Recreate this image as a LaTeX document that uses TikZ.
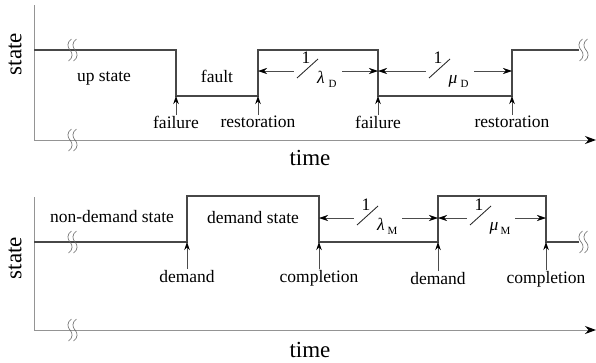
\documentclass[tikz,border=0pt]{standalone}
\usepackage{fontspec}
\setmainfont{Liberation Serif}
\usetikzlibrary{arrows.meta, calc, positioning}

\tikzset{
  sig/.style={draw=black!72, line width=1.3pt},
  ax/.style={draw=black!42, line width=1pt},
  axarrow/.style={ax, -{Stealth[length=11pt,width=8pt,color=black]}},
  evt/.style={draw=black!70, line width=0.6pt, -{Stealth[length=8pt,width=5.5pt,color=black]}},
  dimarr/.style={draw=black!70, line width=0.6pt, -{Stealth[length=9pt,width=6pt,color=black]}},
  lbl/.style={font=\fontsize{17.5}{18}\selectfont, inner sep=1pt},
  sublbl/.style={font=\fontsize{11}{11}\selectfont, inner sep=1pt},
  axlbl/.style={font=\fontsize{23}{24}\selectfont, inner sep=0pt},
  ratebox/.style={minimum width=48pt, minimum height=30pt, inner sep=0pt},
  brk/.pic={
    \draw[black!60, line width=0.6pt] (1.5,-11) .. controls (-3,-8) and (-3,-3) .. (0,0) .. controls (3,3) and (3,8) .. (-1.5,11);
    \draw[black!60, line width=0.6pt] (6.5,-11) .. controls (2,-8) and (2,-3) .. (5,0) .. controls (8,3) and (8,8) .. (3.5,11);
  }
}

% reciprocal of a rate, 1/lambda_X, set round a centre point
\newcommand\ratelbl[4]{%
  \node[ratebox] (#1) at (#2) {};
  \node[lbl, anchor=base] (#1-one) at ($(#2)+(-12,-8)$) {1};
  \draw[black!85, line width=0.85pt] ($(#2)+(-21,7)$) -- ($(#2)+(0,-12)$);
  \node[lbl, anchor=base] (#1-sym) at ($(#2)+(3,12)$) {\textit{#3}};
  \node[sublbl, anchor=base] (#1-sub) at ($(#2)+(14.5,16)$) {#4};
}

\begin{document}
\begin{tikzpicture}[x=1pt,y=-1pt]
  \useasboundingbox (0,0) rectangle (596,362);

  % ---- upper chart: fault and restoration ----
  \coordinate (yt1) at (34,5);
  \coordinate (o1) at (34,140);
  \coordinate (xe1) at (596,140);
  \draw[ax] (yt1) -- (o1);
  \draw[axarrow] (o1) -- (xe1);
  \node[axlbl] (time1) at (310,158) {time};
  \node[axlbl, rotate=90] (state1) at (15,54) {state};
  % switching instants
  \coordinate (f1) at (176,96);
  \coordinate (r1) at (258,96);
  \coordinate (f2) at (378,96);
  \coordinate (r2) at (512,96);
  \draw[sig] (34,50) -- (176,50) -- (f1) -- (r1) -- (258,50) -- (378,50)
    -- (f2) -- (r2) -- (512,50) -- (579,50);
  \pic at (70,50) {brk};
  \pic at (70,140) {brk};
  \pic at (581,50) {brk};
  % states
  \node[lbl] (up) at (104,78) {up state};
  \node[lbl] (fault) at (217,76) {fault};
  % events
  \node[lbl, anchor=north] (fail1) at (176,115) {failure};
  \node[lbl, anchor=north] (rest1) at (258,115) {restoration};
  \node[lbl, anchor=north] (fail2) at (378,115) {failure};
  \node[lbl, anchor=north] (rest2) at (512,115) {restoration};
  \draw[evt] (fail1) -- (f1);
  \draw[evt] (rest1) -- (r1);
  \draw[evt] (fail2) -- (f2);
  \draw[evt] (rest2) -- (r2);
  % mean durations
  \ratelbl{lamD}{318,71}{λ}{D}
  \ratelbl{muD}{450,71}{μ}{D}
  \draw[dimarr] (lamD) -- (lamD -| r1);
  \draw[dimarr] (lamD) -- (lamD -| f2);
  \draw[dimarr] (muD) -- (muD -| f2);
  \draw[dimarr] (muD) -- (muD -| r2);

  % ---- lower chart: demand and completion ----
  \coordinate (yt2) at (34,197);
  \coordinate (o2) at (34,330);
  \coordinate (xe2) at (596,330);
  \draw[ax] (yt2) -- (o2);
  \draw[axarrow] (o2) -- (xe2);
  \node[axlbl] (time2) at (310,350) {time};
  \node[axlbl, rotate=90] (state2) at (15,258) {state};
  % switching instants
  \coordinate (d1) at (187,242);
  \coordinate (c1) at (319,242);
  \coordinate (d2) at (438,242);
  \coordinate (c2) at (546,242);
  \draw[sig] (34,242) -- (d1) -- (187,196) -- (319,196) -- (c1) -- (d2)
    -- (438,196) -- (546,196) -- (c2) -- (579,242);
  \pic at (70,242) {brk};
  \pic at (70,330) {brk};
  \pic at (581,242) {brk};
  % states
  \node[lbl] (nondem) at (112,217) {non-demand state};
  \node[lbl] (dem) at (253,218) {demand state};
  % events
  \node[lbl, anchor=north] (dem1) at (187,269) {demand};
  \node[lbl, anchor=north] (comp1) at (319,269) {completion};
  \node[lbl, anchor=north] (dem2) at (438,271) {demand};
  \node[lbl, anchor=north] (comp2) at (546,270) {completion};
  \draw[evt] (dem1) -- (d1);
  \draw[evt] (comp1) -- (c1);
  \draw[evt] (dem2) -- (d2);
  \draw[evt] (comp2) -- (c2);
  % mean durations
  \ratelbl{lamM}{378,218}{λ}{M}
  \ratelbl{muM}{491,218}{μ}{M}
  \draw[dimarr] (lamM) -- (lamM -| c1);
  \draw[dimarr] (lamM) -- (lamM -| d2);
  \draw[dimarr] (muM) -- (muM -| d2);
  \draw[dimarr] (muM) -- (muM -| c2);
\end{tikzpicture}
\end{document}
